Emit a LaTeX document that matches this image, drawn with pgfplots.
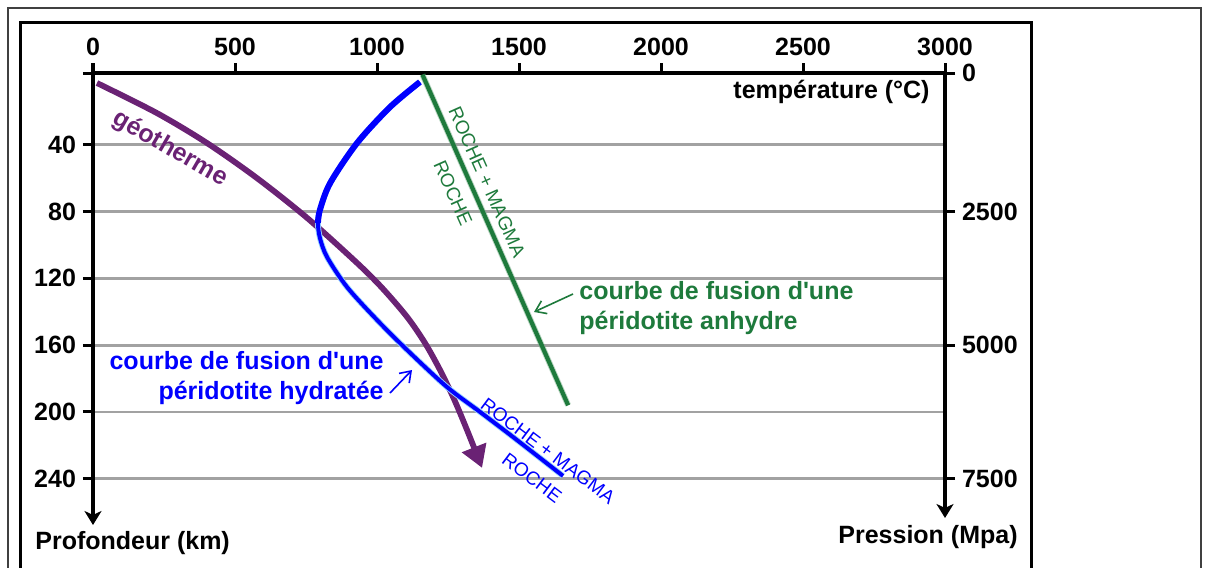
\documentclass[border=0pt]{standalone}
\usepackage{fontspec}
\setmainfont{Liberation Sans}
\usepackage{pgfplots}
\pgfplotsset{compat=1.18}
\usetikzlibrary{arrows.meta}
\definecolor{geo}{RGB}{106,34,116}
\definecolor{grn}{RGB}{30,122,60}
\definecolor{gridgray}{RGB}{162,162,162}
\definecolor{halo}{RGB}{150,210,255}
\newcommand{\bigb}{\fontsize{12.5}{15}\selectfont\bfseries}
\newcommand{\smallr}{\fontsize{9.5}{11}\selectfont}
\begin{document}
\begin{tikzpicture}
\useasboundingbox (-46.5pt,36.5pt) rectangle (557.5pt,-247pt);
\begin{axis}[
  at={(0pt,0pt)}, anchor=north west,
  scale only axis, width=426pt, height=226pt,
  xmin=0, xmax=3000, ymin=-3, ymax=267.7, y dir=reverse,
  axis x line=top, axis y line=left,
  x axis line style={-, line width=1.7pt},
  y axis line style={-{Stealth[length=7pt,width=8.5pt,inset=2pt]}, line width=2pt},
  xtick={0,500,1000,1500,2000,2500,3000},
  xticklabels={0,500,1000,1500,2000,2500,3000},
  ytick={-3,40,80,120,160,200,240},
  yticklabels={{},40,80,120,160,200,240},
  tick align=outside, major tick length=5pt,
  tick style={line width=1.5pt, black},
  ymajorgrids, major grid style={gridgray, line width=1.4pt},
  ticklabel style={font=\bigb},
  /pgf/number format/assume math mode=true,
  clip=false,
]
% anhydrous peridotite solidus
\addplot[grn!60!white, line width=3pt, opacity=0.5] coordinates {(1160,-2) (1673,196)};
\addplot[grn, line width=2.1pt] coordinates {(1160,-2) (1673,196)};
% geotherm
\addplot[geo, line width=2.9pt, smooth, -{Triangle[length=11pt,width=12.5pt]}] coordinates {
(14,3.0) (225,21.0) (401,38.9) (577,59.9) (754,83.8) (930,110.8) (1018,125.7)
(1106,143.1) (1169,158.7) (1222,174.9) (1271,192.2) (1317,210.8) (1370,233.5)};
% hydrated peridotite solidus
\addplot[halo, line width=2.9pt, smooth] coordinates {
(1151,2.4) (1046,17.4) (930,38.9) (835,62.9) (799,79.0) (792,86.8) (799,95.8)
(824,107.2) (894,125.1) (1000,144.9) (1106,162.9) (1246,185.0) (1363,200.0)
(1479,215.0) (1655,238.3)};
\addplot[blue, line width=3pt, smooth] coordinates {
(1151,2.4) (1046,17.4) (930,38.9) (835,62.9) (799,79.0) (792,86.8)};
\addplot[blue, line width=2pt, smooth] coordinates {
(1151,2.4) (1046,17.4) (930,38.9) (835,62.9) (799,79.0) (792,86.8) (799,95.8)
(824,107.2) (894,125.1) (1000,144.9) (1106,162.9) (1246,185.0) (1363,200.0)
(1479,215.0) (1655,238.3)};
\end{axis}
\begin{axis}[
  at={(0pt,0pt)}, anchor=north west,
  scale only axis, width=426pt, height=222.5pt,
  xmin=0, xmax=3000, ymin=-3, ymax=263.5, y dir=reverse,
  axis x line=none, axis y line*=right,
  y axis line style={-{Stealth[length=7pt,width=8.5pt,inset=2pt]}, line width=2pt},
  ytick={-3,80,160,240},
  yticklabels={0,2500,5000,7500},
  tick align=outside, major tick length=5pt,
  tick style={line width=1.5pt, black},
  ticklabel style={font=\bigb},
  /pgf/number format/assume math mode=true,
]
\addplot[draw=none] coordinates {(0,0)};
\end{axis}
\begin{scope}[x=0.5pt, y=-0.5pt, shift={(-46.5pt,36.5pt)}]
  % frames
  \draw[line width=1pt, black!75] (8,570) -- (8,8) -- (1201,8) -- (1201,570);
  \draw[line width=1.5pt] (21,570) -- (21,23) -- (1031,23) -- (1031,570);
  % axis titles
  \node[anchor=east, inner sep=0pt, font=\bigb] at (930,92) {température (°C)};
  \node[anchor=west, inner sep=0pt, font=\bigb] at (35,543) {Profondeur (km)};
  \node[anchor=west, inner sep=0pt, font=\bigb] at (838,537) {Pression (Mpa)};
  % curve labels
  \node[rotate=-30, text=geo, font=\bigb] at (170,149) {géotherme};
  \node[rotate=-66, text=grn, font=\smallr] at (487,182) {ROCHE + MAGMA};
  \node[rotate=-66, text=grn, font=\smallr] at (453,193) {ROCHE};
  \node[rotate=-37, text=blue, font=\smallr] at (548,451) {ROCHE + MAGMA};
  \node[rotate=-37, text=blue, font=\smallr] at (532,478) {ROCHE};
  \node[anchor=west, align=left, inner sep=0pt, text=grn, font=\bigb] at (579,308)
    {courbe de fusion d\textquotesingle une\\péridotite anhydre};
  \node[anchor=east, align=right, inner sep=0pt, text=blue, font=\bigb] at (384,378)
    {courbe de fusion d\textquotesingle une\\péridotite hydratée};
  \draw[grn, line width=0.8pt, -{Straight Barb[length=5pt,width=7pt]}] (573,294) -- (534,312);
  \draw[blue, line width=0.8pt, -{Straight Barb[length=5pt,width=7pt]}] (390,393) -- (412,370);
\end{scope}
\end{tikzpicture}
\end{document}
